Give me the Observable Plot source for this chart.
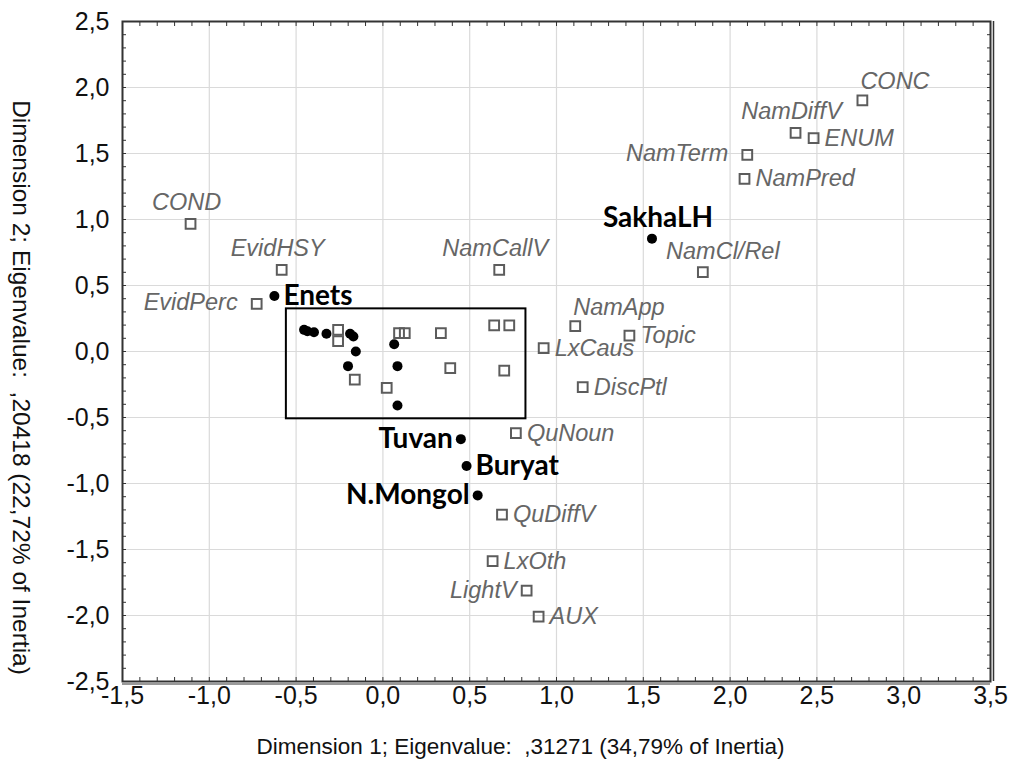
<!DOCTYPE html>
<html><head><meta charset="utf-8">
<script src="https://cdn.jsdelivr.net/npm/d3@7"></script>
<script src="https://cdn.jsdelivr.net/npm/@observablehq/plot@0.6"></script>
<style>html,body{margin:0;padding:0;background:#fff}#chart svg{display:block}</style>
</head><body><div id="chart"></div>
<script>
// ---- Row points (languages) ----
const langNames = ["Enets","SakhaLH","Tuvan","Buryat","N.Mongol","","","","","","","","","","",""];
const langDim1  = [-0.625, 1.550, 0.449, 0.482, 0.546, -0.454, -0.435, -0.397, -0.325, -0.189, -0.170, -0.156, -0.201, 0.065, 0.084, 0.084];
const langDim2  = [ 0.421, 0.855,-0.664,-0.868,-1.090,  0.164,  0.154,  0.146,  0.134,  0.134,  0.114,  0.000, -0.111, 0.055,-0.111,-0.409];

// ---- Column points (features) ----
const featNames = ["CONC","NamDiffV","ENUM","NamTerm","NamPred","NamCl/Rel","COND","EvidHSY","EvidPerc","NamCallV",
  "NamApp","Topic","LxCaus","DiscPtl","QuNoun","QuDiffV","LxOth","LightV","AUX",
  "","","","","","","","","","",""];
const featDim1 = [2.762, 2.377, 2.481, 2.099, 2.083, 1.843, -1.108, -0.583, -0.727, 0.670,
  1.108, 1.420, 0.926, 1.151, 0.766, 0.686, 0.632, 0.828, 0.897,
  -0.258, -0.258, -0.162, 0.022, 0.093, 0.126, 0.334, 0.388, 0.641, 0.728, 0.699];
const featDim2 = [1.902, 1.657, 1.616, 1.490, 1.308, 0.601, 0.967, 0.619, 0.361, 0.619,
  0.192, 0.121, 0.025, -0.270, -0.619, -1.235, -1.589, -1.811, -2.008,
  0.164, 0.078, -0.214, -0.275, 0.139, 0.139, 0.139, -0.126, 0.197, 0.197, -0.144];

// ---- Highlight box (data units) ----
const boxDim1 = [-0.556, 0.824];
const boxDim2 = [-0.510, 0.323];

// ---- Axes ----
const xTickValues = [-1.5,-1,-0.5,0,0.5,1,1.5,2,2.5,3,3.5];
const xTickLabels = ["-1,5","-1,0","-0,5","0,0","0,5","1,0","1,5","2,0","2,5","3,0","3,5"];
const yTickValues = [-2.5,-2,-1.5,-1,-0.5,0,0.5,1,1.5,2,2.5];
const yTickLabels = ["-2,5","-2,0","-1,5","-1,0","-0,5","0,0","0,5","1,0","1,5","2,0","2,5"];
const xTitle = "Dimension 1; Eigenvalue:  ,31271 (34,79% of Inertia)";
const yTitle = "Dimension 2; Eigenvalue:  ,20418 (22,72% of Inertia)";

// ---- build tables ----
const langs = langNames.map((n,i) => ({name:n, x:langDim1[i], y:langDim2[i]}));
const feats = featNames.map((n,i) => ({name:n, x:featDim1[i], y:featDim2[i]}));
const box = [{x1:boxDim1[0], x2:boxDim1[1], y1:boxDim2[0], y2:boxDim2[1]}];
const xMinor = d3.range(-15, 36).map(i => i/10);
const yMinor = d3.range(-25, 26).map(i => i/10);
const xFmt = new Map(xTickValues.map((v,i)=>[v,xTickLabels[i]]));
const yFmt = new Map(yTickValues.map((v,i)=>[v,yTickLabels[i]]));

// ---- label layout (style) ----
const featPlace = {CONC:"aboveRight", NamDiffV:"above", ENUM:"right", NamTerm:"leftFar", NamPred:"right",
  "NamCl/Rel":"aboveShift", COND:"above", EvidHSY:"above", EvidPerc:"leftFar", NamCallV:"above",
  NamApp:"aboveRight", Topic:"right", LxCaus:"right", DiscPtl:"right", QuNoun:"right", QuDiffV:"right",
  LxOth:"right", LightV:"left", AUX:"right"};
const placeStyle = {
  right:{textAnchor:"start", dx:11, dy:0},
  left:{textAnchor:"end", dx:-10, dy:0},
  leftFar:{textAnchor:"end", dx:-19, dy:-1},
  above:{textAnchor:"middle", dx:-4, dy:-21},
  aboveRight:{textAnchor:"start", dx:-2, dy:-19},
  aboveShift:{textAnchor:"middle", dx:20, dy:-21}
};
const langPlace = {Enets:"right", SakhaLH:"above", Tuvan:"left", Buryat:"right", "N.Mongol":"left"};
const langStyle = {
  right:{textAnchor:"start", dx:9, dy:0},
  left:{textAnchor:"end", dx:-8, dy:0},
  above:{textAnchor:"middle", dx:6, dy:-21}
};

const featLabelMarks = Object.entries(placeStyle).map(([k,s]) =>
  Plot.text(feats.filter(d => d.name && featPlace[d.name] === k),
    {x:"x", y:"y", text:"name", ...s, fontSize:23.5, fontStyle:"italic", fill:"#666",
     fontFamily:"'Liberation Sans', Arial, sans-serif"}));
const langLabelMarks = Object.entries(langStyle).map(([k,s]) =>
  Plot.text(langs.filter(d => d.name && langPlace[d.name] === k),
    {x:"x", y:"y", text:"name", ...s, fontSize:28, fontWeight:"bold", fill:"#000",
     fontFamily:"Lato, 'Open Sans', sans-serif"}));

const chart = Plot.plot({
  width: 1010, height: 774,
  marginLeft: 122, marginRight: 20, marginTop: 21, marginBottom: 93,
  x: {domain: [-1.5, 3.5]},
  y: {domain: [-2.5, 2.5]},
  style: {fontFamily: "'Liberation Sans', Arial, sans-serif", background: "white", color: "#111"},
  marks: [
    Plot.gridX(xTickValues, {stroke:"#dadada", strokeOpacity:1, strokeWidth:1.2}),
    Plot.gridY(yTickValues, {stroke:"#dadada", strokeOpacity:1, strokeWidth:1.2}),
    Plot.axisX(xMinor, {anchor:"bottom", tickSize:-4, tickFormat:() => "", label:null, stroke:"#333"}),
    Plot.axisX(xMinor, {anchor:"top", tickSize:-4, tickFormat:() => "", label:null, stroke:"#333"}),
    Plot.axisY(yMinor, {anchor:"left", tickSize:-4, tickFormat:() => "", label:null, stroke:"#333"}),
    Plot.axisY(yMinor, {anchor:"right", tickSize:-4, tickFormat:() => "", label:null, stroke:"#333"}),
    Plot.axisX(xTickValues, {anchor:"bottom", tickSize:0, tickPadding:5, tickFormat:d => xFmt.get(d), fontSize:25, label:null}),
    Plot.axisY(yTickValues, {anchor:"left", tickSize:0, tickPadding:13, tickFormat:d => yFmt.get(d), fontSize:25, label:null}),
    Plot.ruleY([-2.5], {stroke:"#999", strokeWidth:2, dy:2.5}),
    Plot.ruleX([3.5], {stroke:"#333", strokeWidth:1.5, dx:3}),
    Plot.frame({stroke:"#333", strokeWidth:2}),
    Plot.rect(box, {x1:"x1", x2:"x2", y1:"y1", y2:"y2", stroke:"#000", strokeWidth:2, fill:"none"}),
    Plot.dot(langs, {x:"x", y:"y", r:5, fill:"#000", stroke:"none"}),
    Plot.dot(feats, {x:"x", y:"y", symbol:"square", r:5.5, stroke:"#5c5c5c", strokeWidth:2, fill:"none"}),
    ...featLabelMarks,
    ...langLabelMarks,
    Plot.text([xTitle], {frameAnchor:"bottom", textAnchor:"middle", dx:-36, dy:72, fontSize:22.5, fill:"#111"}),
    Plot.text([yTitle], {frameAnchor:"left", textAnchor:"middle", rotate:90, dx:-102, dy:36, fontSize:24.5, fill:"#111"})
  ]
});
document.getElementById("chart").appendChild(chart);
</script>
</body></html>
